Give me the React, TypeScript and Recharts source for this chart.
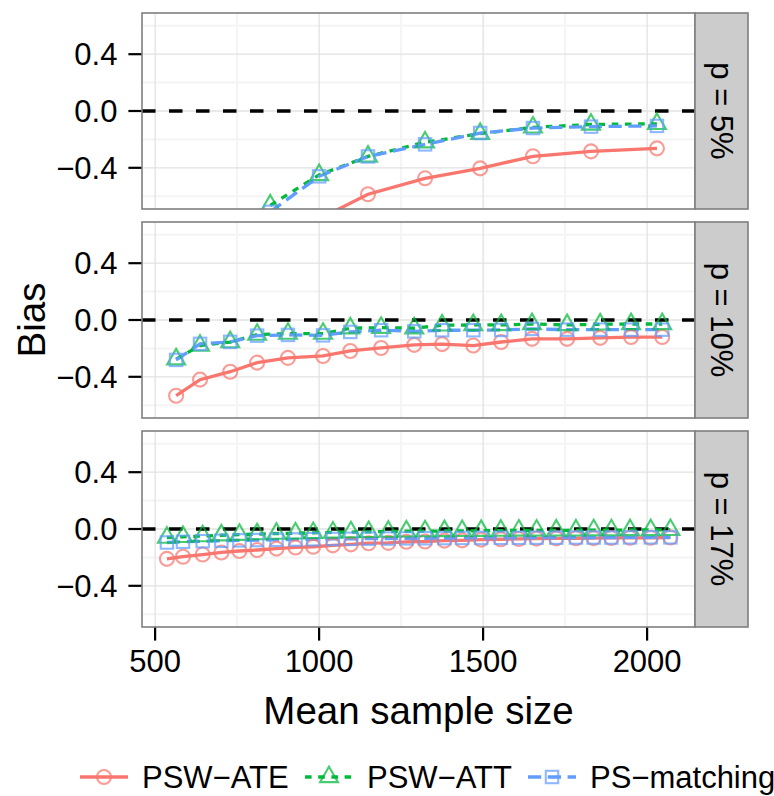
import React from 'react';
import { LineChart, Line, XAxis, YAxis, CartesianGrid, ReferenceLine } from 'recharts';

// ---------- data ----------
const METHOD_LABELS = ['PSW\u2212ATE', 'PSW\u2212ATT', 'PS\u2212matching'];
const PANEL_LABELS = ['p = 5%', 'p = 10%', 'p = 17%'];

const sizes5 = [851, 1000, 1149, 1323, 1491, 1652, 1829, 2030];
const ate5 = [-0.95, -0.76, -0.586, -0.474, -0.404, -0.319, -0.284, -0.263];
const att5 = [-0.664, -0.45, -0.32, -0.22, -0.16, -0.115, -0.095, -0.09];
const psm5 = [-0.71, -0.46, -0.32, -0.235, -0.155, -0.12, -0.11, -0.105];

const sizes10 = [564, 637, 729, 811, 905, 1012, 1095, 1189, 1290, 1375, 1470, 1555, 1649, 1756, 1857, 1951, 2046];
const ate10 = [-0.533, -0.42, -0.364, -0.3, -0.267, -0.253, -0.218, -0.197, -0.175, -0.17, -0.18, -0.155, -0.133, -0.133, -0.126, -0.12, -0.12];
const att10 = [-0.276, -0.18, -0.155, -0.103, -0.096, -0.096, -0.058, -0.054, -0.058, -0.037, -0.035, -0.035, -0.028, -0.035, -0.03, -0.028, -0.028];
const psm10 = [-0.281, -0.168, -0.154, -0.11, -0.105, -0.108, -0.084, -0.072, -0.08, -0.072, -0.072, -0.07, -0.063, -0.068, -0.068, -0.068, -0.068];

const sizes17 = [536, 585, 645, 702, 757, 811, 870, 928, 982, 1042, 1097, 1151, 1211, 1266, 1323, 1382, 1436, 1494, 1554, 1609, 1663, 1723, 1783, 1837, 1891, 1948, 2011, 2071];
const ate17 = [-0.21, -0.195, -0.18, -0.165, -0.155, -0.148, -0.138, -0.13, -0.125, -0.115, -0.108, -0.1, -0.098, -0.09, -0.088, -0.082, -0.08, -0.075, -0.072, -0.07, -0.068, -0.066, -0.065, -0.064, -0.063, -0.062, -0.062, -0.06];
const att17 = [-0.06, -0.055, -0.05, -0.044, -0.04, -0.036, -0.032, -0.03, -0.027, -0.024, -0.022, -0.02, -0.018, -0.016, -0.015, -0.014, -0.013, -0.012, -0.011, -0.01, -0.01, -0.009, -0.009, -0.008, -0.008, -0.007, -0.007, -0.006];
const psm17 = [-0.095, -0.09, -0.086, -0.083, -0.08, -0.078, -0.076, -0.074, -0.072, -0.07, -0.069, -0.068, -0.067, -0.066, -0.065, -0.064, -0.063, -0.063, -0.062, -0.062, -0.061, -0.061, -0.06, -0.06, -0.06, -0.059, -0.059, -0.059];

const X_TICKS = [500, 1000, 1500, 2000];
const X_MINOR = [750, 1250, 1750];
const Y_TICKS = [-0.4, 0, 0.4];
const Y_MINOR = [-0.6, -0.2, 0.2, 0.6];

// ---------- layout / style ----------
const X_DOMAIN: [number, number] = [460, 2146];
const Y_DOMAIN: [number, number] = [-0.69, 0.69];
const PANEL_TOPS = [13, 222, 431];
const PANEL_H = 196;
const PLOT_LEFT = 142;
const PLOT_RIGHT = 695;
const STRIP_W = 53;
const X_AXIS_H = 70;
const COLORS = ['#F8766D', '#00BA38', '#619CFF'];
const DASHES: (string | undefined)[] = [undefined, '6.6 6.6', '13.2 6.6'];
const FONT = '"Liberation Sans", Arial, Helvetica, sans-serif';
const SERIES_KEYS = ['ate', 'att', 'psm'];
const LEGEND_KEY_X = [80, 305, 528];

type Row = { size: number; ate: number; att: number; psm: number };
function makeRows(sizes: number[], ate: number[], att: number[], psm: number[]): Row[] {
  return sizes.map((s, i) => ({ size: s, ate: ate[i], att: att[i], psm: psm[i] }));
}
const PANELS: Row[][] = [
  makeRows(sizes5, ate5, att5, psm5),
  makeRows(sizes10, ate10, att10, psm10),
  makeRows(sizes17, ate17, att17, psm17),
];

function markerEl(kind: number, cx: number, cy: number, color: string, key?: any) {
  if (cx == null || cy == null || isNaN(cx) || isNaN(cy)) return <g key={key} />;
  const R = 7;
  const common = { fill: 'none', stroke: color, strokeWidth: 2.1, strokeOpacity: 0.72 };
  if (kind === 0) return <circle key={key} cx={cx} cy={cy} r={R} {...common} />;
  if (kind === 1) {
    const s = 0.95;
    const r = 1.555 * R * s, yc = 0.778 * R * s, xc = 1.347 * R * s;
    return (
      <polygon key={key} points={`${cx},${cy - r} ${cx + xc},${cy + yc} ${cx - xc},${cy + yc}`} {...common} />
    );
  }
  const h = 0.886 * R;
  return <rect key={key} x={cx - h} y={cy - h} width={2 * h} height={2 * h} {...common} />;
}

const fmtY = (v: number) => (v === 0 ? '0.0' : (v < 0 ? '\u2212' : '') + Math.abs(v).toFixed(1));

function Panel({ rows, showX, top }: { rows: Row[]; showX: boolean; top: number }) {
  const height = PANEL_H + (showX ? X_AXIS_H : 0);
  const tickStyle = { fontSize: 31, fill: '#000', fontFamily: FONT };
  return (
    <div style={{ position: 'absolute', left: 0, top, width: PLOT_RIGHT, height }}>
      <LineChart width={PLOT_RIGHT} height={height} data={rows} margin={{ top: 0, right: 0, bottom: 0, left: 0 }}>
        <CartesianGrid horizontalValues={Y_MINOR} verticalValues={X_MINOR} stroke="#F4F4F4" strokeWidth={2} />
        <CartesianGrid horizontalValues={Y_TICKS} verticalValues={X_TICKS} stroke="#E2E2E2" strokeWidth={1.3} />
        <XAxis
          type="number"
          dataKey="size"
          domain={X_DOMAIN}
          ticks={X_TICKS}
          allowDataOverflow
          hide={!showX}
          height={showX ? X_AXIS_H : 0}
          axisLine={false}
          tickLine={{ stroke: '#000', strokeWidth: 2.2 }}
          tickSize={13.6}
          tickMargin={9}
          tick={tickStyle}
          interval={0}
        />
        <YAxis
          type="number"
          domain={Y_DOMAIN}
          ticks={Y_TICKS}
          allowDataOverflow
          width={PLOT_LEFT}
          axisLine={false}
          tickLine={{ stroke: '#000', strokeWidth: 2.2 }}
          tickSize={13.6}
          tickMargin={11}
          tick={tickStyle}
          tickFormatter={fmtY}
          interval={0}
        />
        <ReferenceLine y={0} stroke="#000" strokeWidth={3.3} strokeDasharray="13.5 13.5" />
        {SERIES_KEYS.map((k, i) => (
          <Line
            key={'l' + k}
            type="linear"
            dataKey={k}
            stroke={COLORS[i]}
            strokeWidth={3.3}
            strokeDasharray={DASHES[i]}
            dot={false}
            activeDot={false}
            isAnimationActive={false}
          />
        ))}
        {SERIES_KEYS.map((k, i) => (
          <Line
            key={'p' + k}
            type="linear"
            dataKey={k}
            stroke="none"
            dot={(p: any) => markerEl(i, p.cx, p.cy, COLORS[i], 'd' + k + p.index)}
            activeDot={false}
            isAnimationActive={false}
          />
        ))}
      </LineChart>
    </div>
  );
}

export default function App() {
  return (
    <div
      style={{
        position: 'absolute',
        left: 0,
        top: 0,
        width: 774,
        height: 796,
        background: '#fff',
        overflow: 'hidden',
        fontFamily: FONT,
      }}
    >
      {PANELS.map((rows, i) => (
        <Panel key={i} rows={rows} showX={i === PANELS.length - 1} top={PANEL_TOPS[i]} />
      ))}
      <svg
        width={774}
        height={796}
        style={{ position: 'absolute', left: 0, top: 0, pointerEvents: 'none' }}
        fontFamily={FONT}
      >
        {PANEL_TOPS.map((t, i) => (
          <g key={i}>
            <rect x={PLOT_LEFT} y={t} width={PLOT_RIGHT - PLOT_LEFT} height={PANEL_H} fill="none" stroke="#7F7F7F" strokeWidth={1.6} />
            <rect x={PLOT_RIGHT} y={t} width={STRIP_W} height={PANEL_H} fill="#CCCCCC" stroke="#7F7F7F" strokeWidth={1.6} />
            <text
              transform={`translate(${PLOT_RIGHT + STRIP_W / 2},${t + PANEL_H / 2}) rotate(90)`}
              textAnchor="middle"
              dominantBaseline="central"
              fontSize={31}
              fill="#000"
            >
              {PANEL_LABELS[i]}
            </text>
          </g>
        ))}
        <text transform="translate(45,320) rotate(-90)" textAnchor="middle" fontSize={38.5} fill="#000">
          Bias
        </text>
        <text x={(PLOT_LEFT + PLOT_RIGHT) / 2} y={724} textAnchor="middle" fontSize={38.5} fill="#000">
          Mean sample size
        </text>
        {METHOD_LABELS.map((lab, i) => {
          const kx = LEGEND_KEY_X[i];
          const ky = 777;
          return (
            <g key={lab}>
              <line x1={kx} x2={kx + 48} y1={ky} y2={ky} stroke={COLORS[i]} strokeWidth={3.3} strokeDasharray={DASHES[i]} />
              {markerEl(i, kx + 24, ky, COLORS[i])}
              <text x={kx + 62} y={788} fontSize={31} fill="#000">
                {lab}
              </text>
            </g>
          );
        })}
      </svg>
    </div>
  );
}
